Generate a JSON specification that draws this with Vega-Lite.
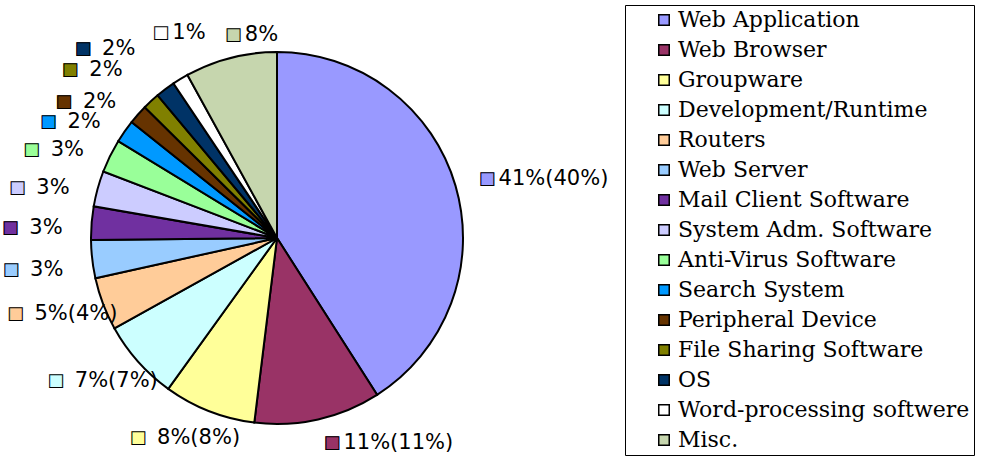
{
  "$schema": "https://vega.github.io/schema/vega-lite/v6.json",
  "width": 554,
  "height": 438,
  "autosize": {"type": "none"},
  "padding": {"left": 0, "top": 19, "right": 444, "bottom": 0},
  "background": "white",
  "config": {
    "font": "DejaVu Serif",
    "view": {"stroke": null},
    "legend": {
      "labelFont": "DejaVu Serif",
      "labelFontSize": 22,
      "labelColor": "black"
    }
  },
  "data": {
    "values": [
      {"cat": "Web Application", "v": 41, "o": 1, "lab": "41%(40%)"},
      {"cat": "Web Browser", "v": 11, "o": 2, "lab": "11%(11%)"},
      {"cat": "Groupware", "v": 8, "o": 3, "lab": "8%(8%)"},
      {"cat": "Development/Runtime", "v": 7, "o": 4, "lab": "7%(7%)"},
      {"cat": "Routers", "v": 4.6, "o": 5, "lab": "5%(4%)"},
      {"cat": "Web Server", "v": 3.3, "o": 6, "lab": "3%"},
      {"cat": "Mail Client Software", "v": 2.9, "o": 7, "lab": "3%"},
      {"cat": "System Adm. Software", "v": 3.1, "o": 8, "lab": "3%"},
      {"cat": "Anti-Virus Software", "v": 2.9, "o": 9, "lab": "3%"},
      {"cat": "Search System", "v": 2.0, "o": 10, "lab": "2%"},
      {"cat": "Peripheral Device", "v": 1.7, "o": 11, "lab": "2%"},
      {"cat": "File Sharing Software", "v": 1.5, "o": 12, "lab": "2%"},
      {"cat": "OS", "v": 1.7, "o": 13, "lab": "2%"},
      {"cat": "Word-processing softwere", "v": 1.4, "o": 14, "lab": "1%"},
      {"cat": "Misc.", "v": 8.0, "o": 15, "lab": "8%"}
    ]
  },
  "encoding": {
    "theta": {"field": "v", "type": "quantitative", "stack": true},
    "order": {"field": "o", "type": "quantitative", "sort": "ascending"}
  },
  "layer": [
    {
      "mark": {"type": "arc", "outerRadius": 186, "stroke": "black", "strokeWidth": 2},
      "encoding": {
        "color": {
          "field": "cat",
          "type": "nominal",
          "scale": {
            "domain": ["Web Application", "Web Browser", "Groupware", "Development/Runtime", "Routers", "Web Server", "Mail Client Software", "System Adm. Software", "Anti-Virus Software", "Search System", "Peripheral Device", "File Sharing Software", "OS", "Word-processing softwere", "Misc."],
            "range": ["#9999FF", "#993366", "#FFFF99", "#CCFFFF", "#FFCC99", "#99CCFF", "#7030A0", "#CCCCFF", "#99FF99", "#0099FF", "#663300", "#808000", "#003366", "#FFFFFF", "#C6D6AE"]
          },
          "legend": {
            "orient": "none",
            "legendX": 625,
            "legendY": -14,
            "title": null,
            "symbolType": "square",
            "symbolSize": 110,
            "symbolStrokeColor": "black",
            "symbolStrokeWidth": 1.5,
            "symbolOpacity": 1,
            "labelFont": "DejaVu Serif",
            "labelFontSize": 22,
            "labelColor": "black",
            "labelOffset": 3,
            "rowPadding": 8,
            "padding": 4,
            "symbolOffset": 24,
            "strokeColor": "black",
            "fillColor": "white",
            "labelLimit": 400
          }
        }
      }
    },
    {
      "mark": {"type": "text", "align": "left", "baseline": "middle", "radius": 210, "font": "DejaVu Sans", "fontSize": 18},
      "encoding": {
        "color": {"field": "cat", "type": "nominal"},
        "text": {"condition": {"test": "indexof(['Web Application','Web Browser','Misc.'], datum.cat) >= 0", "value": "■"}, "value": ""}
      }
    },
    {
      "mark": {"type": "text", "align": "left", "baseline": "middle", "radius": 210, "font": "DejaVu Sans", "fontSize": 18, "fill": "black"},
      "encoding": {
        "text": {"condition": {"test": "indexof(['Web Application','Web Browser','Misc.'], datum.cat) >= 0", "value": "□"}, "value": ""}
      }
    },
    {
      "mark": {"type": "text", "align": "left", "baseline": "middle", "radius": 210, "dx": 20, "font": "DejaVu Sans", "fontSize": 21, "fill": "black"},
      "encoding": {
        "text": {"condition": {"test": "indexof(['Web Application','Web Browser','Misc.'], datum.cat) >= 0", "field": "lab"}, "value": ""}
      }
    },
    {
      "mark": {"type": "text", "align": "left", "baseline": "middle", "radius": 240, "font": "DejaVu Sans", "fontSize": 18},
      "encoding": {
        "color": {"field": "cat", "type": "nominal"},
        "text": {"condition": {"test": "datum.cat == 'Word-processing softwere'", "value": "■"}, "value": ""}
      }
    },
    {
      "mark": {"type": "text", "align": "left", "baseline": "middle", "radius": 240, "font": "DejaVu Sans", "fontSize": 18, "fill": "black"},
      "encoding": {
        "text": {"condition": {"test": "datum.cat == 'Word-processing softwere'", "value": "□"}, "value": ""}
      }
    },
    {
      "mark": {"type": "text", "align": "left", "baseline": "middle", "radius": 240, "dx": 20, "font": "DejaVu Sans", "fontSize": 21, "fill": "black"},
      "encoding": {
        "text": {"condition": {"test": "datum.cat == 'Word-processing softwere'", "field": "lab"}, "value": ""}
      }
    },
    {
      "mark": {"type": "text", "align": "right", "baseline": "middle", "radius": 215, "dx": -52, "font": "DejaVu Sans", "fontSize": 18},
      "encoding": {
        "color": {"field": "cat", "type": "nominal"},
        "text": {"condition": {"test": "indexof(['Groupware','Development/Runtime','Routers'], datum.cat) >= 0", "value": "■"}, "value": ""}
      }
    },
    {
      "mark": {"type": "text", "align": "right", "baseline": "middle", "radius": 215, "dx": -52, "font": "DejaVu Sans", "fontSize": 18, "fill": "black"},
      "encoding": {
        "text": {"condition": {"test": "indexof(['Groupware','Development/Runtime','Routers'], datum.cat) >= 0", "value": "□"}, "value": ""}
      }
    },
    {
      "mark": {"type": "text", "align": "center", "baseline": "middle", "radius": 215, "font": "DejaVu Sans", "fontSize": 21, "fill": "black"},
      "encoding": {
        "text": {"condition": {"test": "indexof(['Groupware','Development/Runtime','Routers'], datum.cat) >= 0", "field": "lab"}, "value": ""}
      }
    },
    {
      "mark": {"type": "text", "align": "right", "baseline": "middle", "radius": 215, "dx": -44, "dy": 7, "font": "DejaVu Sans", "fontSize": 18},
      "encoding": {
        "color": {"field": "cat", "type": "nominal"},
        "text": {"condition": {"test": "indexof(['Web Server','Mail Client Software','System Adm. Software','Anti-Virus Software','Search System','Peripheral Device'], datum.cat) >= 0", "value": "■"}, "value": ""}
      }
    },
    {
      "mark": {"type": "text", "align": "right", "baseline": "middle", "radius": 215, "dx": -44, "dy": 7, "font": "DejaVu Sans", "fontSize": 18, "fill": "black"},
      "encoding": {
        "text": {"condition": {"test": "indexof(['Web Server','Mail Client Software','System Adm. Software','Anti-Virus Software','Search System','Peripheral Device'], datum.cat) >= 0", "value": "□"}, "value": ""}
      }
    },
    {
      "mark": {"type": "text", "align": "right", "baseline": "middle", "radius": 215, "dy": 7, "font": "DejaVu Sans", "fontSize": 21, "fill": "black"},
      "encoding": {
        "text": {"condition": {"test": "indexof(['Web Server','Mail Client Software','System Adm. Software','Anti-Virus Software','Search System','Peripheral Device'], datum.cat) >= 0", "field": "lab"}, "value": ""}
      }
    },
    {
      "mark": {"type": "text", "align": "right", "baseline": "middle", "radius": 228, "dx": -44, "font": "DejaVu Sans", "fontSize": 18},
      "encoding": {
        "color": {"field": "cat", "type": "nominal"},
        "text": {"condition": {"test": "datum.cat == 'File Sharing Software'", "value": "■"}, "value": ""}
      }
    },
    {
      "mark": {"type": "text", "align": "right", "baseline": "middle", "radius": 228, "dx": -44, "font": "DejaVu Sans", "fontSize": 18, "fill": "black"},
      "encoding": {
        "text": {"condition": {"test": "datum.cat == 'File Sharing Software'", "value": "□"}, "value": ""}
      }
    },
    {
      "mark": {"type": "text", "align": "right", "baseline": "middle", "radius": 228, "font": "DejaVu Sans", "fontSize": 21, "fill": "black"},
      "encoding": {
        "text": {"condition": {"test": "datum.cat == 'File Sharing Software'", "field": "lab"}, "value": ""}
      }
    },
    {
      "mark": {"type": "text", "align": "right", "baseline": "middle", "radius": 236, "dx": -44, "font": "DejaVu Sans", "fontSize": 18},
      "encoding": {
        "color": {"field": "cat", "type": "nominal"},
        "text": {"condition": {"test": "datum.cat == 'OS'", "value": "■"}, "value": ""}
      }
    },
    {
      "mark": {"type": "text", "align": "right", "baseline": "middle", "radius": 236, "dx": -44, "font": "DejaVu Sans", "fontSize": 18, "fill": "black"},
      "encoding": {
        "text": {"condition": {"test": "datum.cat == 'OS'", "value": "□"}, "value": ""}
      }
    },
    {
      "mark": {"type": "text", "align": "right", "baseline": "middle", "radius": 236, "font": "DejaVu Sans", "fontSize": 21, "fill": "black"},
      "encoding": {
        "text": {"condition": {"test": "datum.cat == 'OS'", "field": "lab"}, "value": ""}
      }
    }
  ]
}
